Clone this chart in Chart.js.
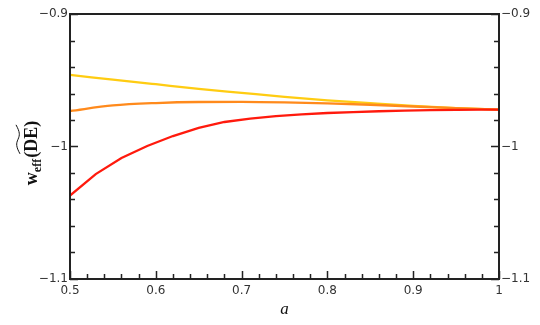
<!DOCTYPE html>
<html>
<head>
<meta charset="utf-8">
<script src="https://cdn.jsdelivr.net/npm/chart.js@4.4.1/dist/chart.umd.min.js"></script>
<style>
  html, body { margin: 0; padding: 0; background: #fff; }
  #wrap { width: 540px; height: 325px; }
</style>
</head>
<body>
<div id="wrap"><canvas id="chart" width="540" height="325"></canvas></div>
<script>
// values
var aSmooth = [0.5, 0.55, 0.6, 0.65, 0.7, 0.75, 0.8, 0.85, 0.9, 0.95, 1.0];
var yellowW = [-0.946, -0.9495, -0.953, -0.9565, -0.9595, -0.9625, -0.9652, -0.9673, -0.9693, -0.971, -0.9722];
var orangeW = [-0.9732, -0.969, -0.9672, -0.9664, -0.9663, -0.9667, -0.9675, -0.9685, -0.9698, -0.971, -0.9721];

var aRed = [0.5, 0.53, 0.56, 0.59, 0.62, 0.65, 0.68, 0.71, 0.74, 0.77, 0.8, 0.83, 0.86, 0.89, 0.92, 0.95, 0.98, 1.0];
var redW = [-1.037, -1.0208, -1.0087, -0.9996, -0.9921, -0.986, -0.9815, -0.9789, -0.977, -0.9758, -0.9747, -0.974, -0.9734, -0.973, -0.9726, -0.9724, -0.9722, -0.9721];

var xTicks = [0.5, 0.6, 0.7, 0.8, 0.9, 1];
var yTicks = [-1.1, -1, -0.9];

function pts(xs, ys) {
  return xs.map(function (x, i) { return { x: x, y: ys[i] }; });
}

function yLabel(v) {
  var r = Math.round(v * 10) / 10;
  if (yTicks.indexOf(r) < 0 || Math.abs(v - r) > 1e-6) return '';
  return '\u2212' + String(Math.abs(r));
}

// frame, inward ticks and axis titles
var frame = {
  id: 'frame',
  afterDraw: function (chart) {
    var ctx = chart.ctx, ca = chart.chartArea;
    var xs = chart.scales.x, ys = chart.scales.y;
    ctx.save();
    ctx.strokeStyle = '#222';
    ctx.lineWidth = 2;
    ctx.strokeRect(ca.left, ca.top, ca.right - ca.left, ca.bottom - ca.top);
    ctx.lineWidth = 1.5;
    ctx.beginPath();
    for (var i = 0; i <= 25; i++) {
      var v = 0.5 + i * 0.02;
      var px = Math.round(xs.getPixelForValue(v)) + 0.5;
      var len = (i % 5 === 0) ? 8 : 5;
      ctx.moveTo(px, ca.bottom);
      ctx.lineTo(px, ca.bottom - len);
    }
    for (var j = 0; j <= 10; j++) {
      var w = -1.1 + j * 0.02;
      var py = Math.round(ys.getPixelForValue(w)) + 0.5;
      var l = (j % 5 === 0) ? 8 : 5;
      ctx.moveTo(ca.left, py);
      ctx.lineTo(ca.left + l, py);
      ctx.moveTo(ca.right, py);
      ctx.lineTo(ca.right - l, py);
    }
    ctx.stroke();

    // x title
    ctx.fillStyle = '#111';
    ctx.font = 'italic 17px "Liberation Serif"';
    ctx.textAlign = 'center';
    ctx.textBaseline = 'middle';
    ctx.fillText('a', (ca.left + ca.right) / 2, 310);

    // y title
    ctx.translate(32, 153);
    ctx.rotate(-Math.PI / 2);
    ctx.textBaseline = 'alphabetic';
    ctx.textAlign = 'left';
    var big = 'bold 18px "Liberation Serif"';
    var small = 'bold 12px "Liberation Serif"';
    ctx.font = big; var w1 = ctx.measureText('w').width;
    ctx.font = small; var w2 = ctx.measureText('eff').width;
    ctx.font = big; var w3 = ctx.measureText('(DE)').width;
    var wp = ctx.measureText('(').width;
    var wde = ctx.measureText('DE').width;
    var total = w1 + w2 + 1 + w3;
    var x0 = -total / 2;
    ctx.font = big; ctx.fillText('w', x0, 5);
    ctx.font = small; ctx.fillText('eff', x0 + w1, 9);
    ctx.font = big; ctx.fillText('(DE)', x0 + w1 + w2 + 1, 5);
    // tilde over DE
    var tx = x0 + w1 + w2 + 1 + wp - 2, tw = wde + 4, ty = -12;
    ctx.lineWidth = 1;
    ctx.strokeStyle = '#111';
    ctx.beginPath();
    ctx.moveTo(tx, ty);
    ctx.bezierCurveTo(tx + tw * 0.25, ty - 4, tx + tw * 0.35, ty - 4, tx + tw * 0.5, ty - 2);
    ctx.bezierCurveTo(tx + tw * 0.65, ty, tx + tw * 0.75, ty, tx + tw, ty - 4);
    ctx.stroke();
    ctx.restore();
  }
};

var tickFont = { family: 'DejaVu Sans', size: 12 };

new Chart(document.getElementById('chart'), {
  type: 'line',
  data: {
    datasets: [
      { label: 'red', data: pts(aRed, redW), borderColor: '#ff1a0d', borderWidth: 2.3, tension: 0, pointRadius: 0 },
      { label: 'orange', data: pts(aSmooth, orangeW), borderColor: '#ff8a1c', borderWidth: 2.3, tension: 0.4, cubicInterpolationMode: 'monotone', pointRadius: 0 },
      { label: 'yellow', data: pts(aSmooth, yellowW), borderColor: '#ffcc12', borderWidth: 2.3, tension: 0.4, cubicInterpolationMode: 'monotone', pointRadius: 0 }
    ]
  },
  options: {
    responsive: false,
    animation: false,
    layout: { padding: { top: 14, right: 0, bottom: 0, left: 0 } },
    plugins: { legend: { display: false }, tooltip: { enabled: false } },
    scales: {
      x: {
        type: 'linear', min: 0.5, max: 1,
        afterFit: function (s) { s.height = 46; },
        afterBuildTicks: function (s) { s.ticks = xTicks.map(function (v) { return { value: v }; }); },
        grid: { display: false, drawTicks: false },
        border: { display: false },
        ticks: { padding: 5, color: '#333', font: tickFont, maxRotation: 0, autoSkip: false,
          callback: function (v) { return String(v); } }
      },
      y: {
        type: 'linear', position: 'left', min: -1.1, max: -0.9,
        afterFit: function (s) { s.width = 70; },
        afterBuildTicks: function (s) { s.ticks = yTicks.map(function (v) { return { value: v }; }); },
        grid: { display: false, drawTicks: false },
        border: { display: false },
        ticks: { padding: 2, color: '#333', font: tickFont, callback: yLabel }
      },
      y2: {
        type: 'linear', position: 'right', min: -1.1, max: -0.9,
        afterFit: function (s) { s.width = 41; },
        afterBuildTicks: function (s) { s.ticks = yTicks.map(function (v) { return { value: v }; }); },
        grid: { display: false, drawTicks: false },
        border: { display: false },
        ticks: { padding: 2, color: '#333', font: tickFont, callback: yLabel }
      }
    }
  },
  plugins: [frame]
});
</script>
</body>
</html>
